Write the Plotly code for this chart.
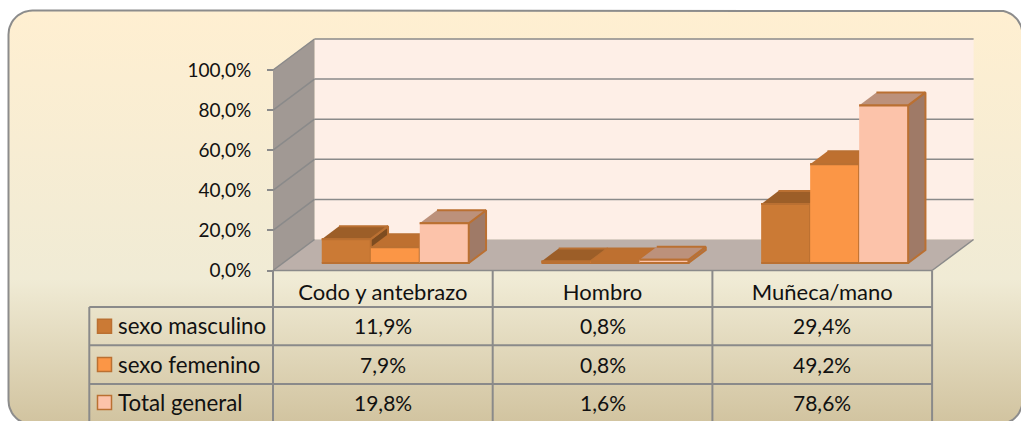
import numpy as np
import plotly.graph_objects as go

# ---- data ----
categories = ["Codo y antebrazo", "Hombro", "Muñeca/mano"]
series_names = ["sexo masculino", "sexo femenino", "Total general"]
sexo_masculino = [11.9, 0.8, 29.4]
sexo_femenino = [7.9, 0.8, 49.2]
total_general = [19.8, 1.6, 78.6]
y_ticks = [0, 20, 40, 60, 80, 100]

# ---- styles ----
FONT = "Lato"
TICK_SIZE = 19
NAME_SIZE = 22.3
NUM_SIZE = 21
CAT_SIZE = 22
GRID = "#8A8A8A"
front_cols = ["#CB7A35", "#FB9646", "#FCC3AA"]
top_cols = ["#9C5E28", "#BE7030", "#BC917B"]
side_cols = ["#7E4C20", "#A3602A", "#9F7A67"]
EDGE = "#BA7032"

# ---- layout geometry (pixels of the canvas -> axis units) ----
W, H = 1021, 421
X0, XU = 273.0, 219.7      # pixel of category edge 0, pixels per category
Y0, YU = 270.5, 2.005      # pixel of 0 %, pixels per 1 %
DX, DY = 41.5 / XU, 31.0 / YU   # floor depth projected in axis units


def ux(px):
    return (px - X0) / XU


def uy(py):
    return (Y0 - py) / YU


fig = go.Figure()


def poly(xs, ys, fill, line=None, lw=2):
    fig.add_trace(go.Scatter(
        x=list(xs), y=list(ys), mode="lines", fill="toself", fillcolor=fill,
        line=dict(color=line or "rgba(0,0,0,0)", width=lw if line else 0),
        hoverinfo="skip", showlegend=False))


def lines(segments, color=GRID, lw=1.5):
    xs, ys = [], []
    for (a, b), (c, d) in segments:
        xs += [a, c, None]
        ys += [b, d, None]
    fig.add_trace(go.Scatter(x=xs, y=ys, mode="lines",
                             line=dict(color=color, width=lw),
                             hoverinfo="skip", showlegend=False))


# ---- rounded panel with the vertical gradient ----
L, T, R, B, RAD = 8.5, 10.5, 1022.5, 424.5, 24
t = np.linspace(0, np.pi / 2, 16)
px_ = np.concatenate([L + RAD - RAD * np.cos(t), R - RAD + RAD * np.sin(t),
                      R - RAD + RAD * np.cos(t), L + RAD - RAD * np.sin(t), [L]])
py_ = np.concatenate([T + RAD - RAD * np.sin(t), T + RAD - RAD * np.cos(t),
                      B - RAD + RAD * np.sin(t), B - RAD + RAD * np.cos(t), [T + RAD]])
fig.add_trace(go.Scatter(
    x=ux(px_), y=uy(py_), mode="lines", fill="toself",
    fillgradient=dict(type="vertical",
                      colorscale=[[0, "#D1C39F"], [0.35, "#F0EBD5"], [1, "#FFEFD1"]]),
    line=dict(color="#8C8C8C", width=2), hoverinfo="skip", showlegend=False))

# ---- 3D box: back wall, left wall, floor ----
n = len(categories)
ymax = y_ticks[-1]
poly([DX, n + DX, n + DX, DX], [DY, DY, ymax + DY, ymax + DY], "#FEEFE7")
poly([0, DX, DX, 0], [0, DY, ymax + DY, ymax], "#A19994")
poly([0, n, n + DX, DX], [0, 0, DY, DY], "#BCB0AA")
lines([((0, v), (DX, v + DY)) for v in y_ticks[1:]] +
      [((DX, v + DY), (n + DX, v + DY)) for v in y_ticks[1:]])
lines([((0, 0), (n, 0)), ((n, 0), (n + DX, DY)), ((0, 0), (DX, DY))])

# ---- bars ----
BW = 49.0 / XU
SHIFT = 12.4 / XU          # horizontal shift of the bars' front plane
BASE = 7.5 / YU            # lift of the bars' front plane
BDX, BDY = 17.3 / XU, 13.0 / YU
series = [sexo_masculino, sexo_femenino, total_general]
for c in range(n):
    for s, vals in enumerate(series):
        v = vals[c]
        x0 = c + 0.5 + SHIFT + (s - 1.5) * BW
        x1 = x0 + BW
        b, h = BASE, BASE + v
        poly([x1, x1 + BDX, x1 + BDX, x1], [b, b + BDY, h + BDY, h], side_cols[s], EDGE)
        poly([x0, x1, x1 + BDX, x0 + BDX], [h, h, h + BDY, h + BDY], top_cols[s], EDGE)
        poly([x0, x1, x1, x0], [b, b, h, h], front_cols[s], EDGE)

# ---- data table ----
row_edges = [uy(p) for p in (307, 345.3, 384, 430)]
key_left = ux(89.3)
segs = [((key_left, e), (n, e)) for e in row_edges[:3]]
segs += [((i, 0), (i, row_edges[3])) for i in range(n + 1)]
segs += [((key_left, row_edges[0]), (key_left, row_edges[3]))]
lines(segs, lw=2)

row_centres = [uy(p) for p in (325.5, 364, 402.5)]
fig.add_trace(go.Scatter(
    x=[ux(104.5)] * 3, y=[uy(p) for p in (326.3, 364.5, 402.5)], mode="markers",
    marker=dict(symbol="square", size=14, color=front_cols, line=dict(color=EDGE, width=1.5)),
    hoverinfo="skip", showlegend=False))

annotations = []
for r, (name, vals) in enumerate(zip(series_names, series)):
    annotations.append(dict(x=ux(115.5), y=row_centres[r], text=name, xref="x", yref="y",
                            xanchor="left", yanchor="middle", showarrow=False,
                            font=dict(family=FONT, size=NAME_SIZE, color="#111111")))
    for c, v in enumerate(vals):
        annotations.append(dict(x=c + 0.5, y=row_centres[r],
                                text=f"{v:.1f}%".replace(".", ","), xref="x", yref="y",
                                xanchor="center", yanchor="middle", showarrow=False,
                                font=dict(family=FONT, size=NUM_SIZE, color="#111111")))

fig.update_layout(
    width=W, height=H, margin=dict(l=0, r=0, t=0, b=0, pad=0), autosize=False,
    paper_bgcolor="white", plot_bgcolor="rgba(0,0,0,0)", showlegend=False,
    annotations=annotations,
    xaxis=dict(range=[ux(0), ux(W)], showgrid=False, zeroline=False, showline=False,
               anchor="free", position=(H - Y0) / H, side="bottom",
               tickmode="array", tickvals=[c + 0.5 for c in range(n)], ticktext=categories,
               ticks="", ticklabelstandoff=6,
               tickfont=dict(family=FONT, size=CAT_SIZE, color="#111111")),
    yaxis=dict(range=[uy(H), uy(0)], showgrid=False, zeroline=False, showline=False,
               anchor="free", position=X0 / W, side="left",
               tickmode="array", tickvals=y_ticks,
               ticktext=[f"{v:.1f}%".replace(".", ",") for v in y_ticks],
               ticks="outside", ticklen=6, tickwidth=1.5, tickcolor=GRID,
               ticklabelstandoff=12,
               tickfont=dict(family=FONT, size=TICK_SIZE, color="#111111")),
)

fig.write_html("out.html", config={"displayModeBar": False},
               post_script="document.body.style.margin='0';")
